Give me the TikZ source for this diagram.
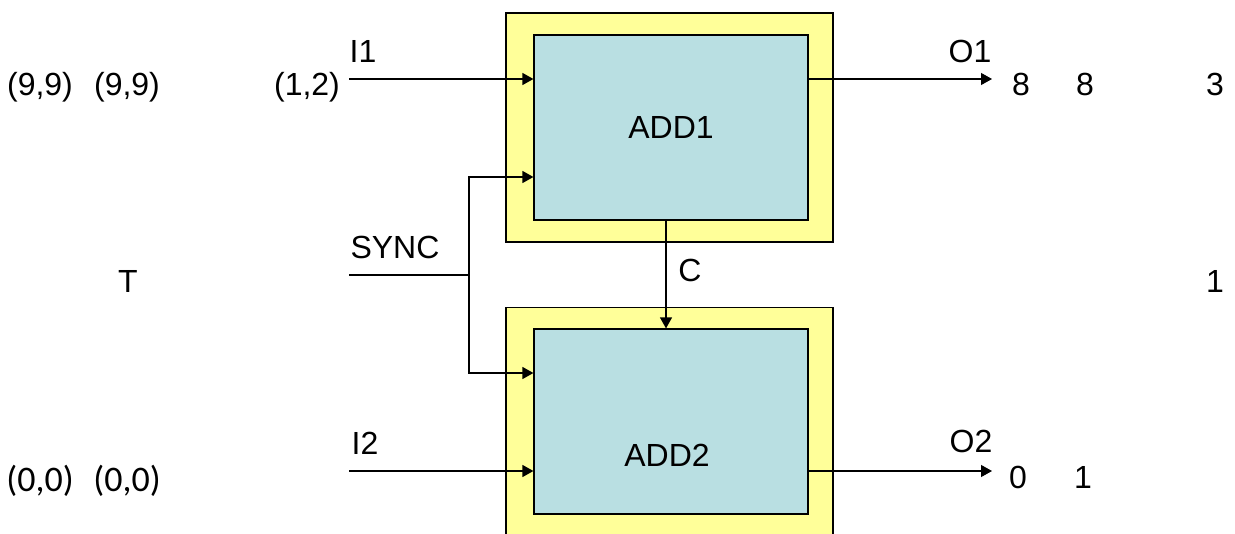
\documentclass[tikz,border=0pt]{standalone}
\usepackage{fontspec}
\setmainfont{Liberation Sans}
\newfontfamily\carlitofont{Carlito}
\usetikzlibrary{arrows.meta,positioning}
\definecolor{frameyellow}{HTML}{FFFF99}
\definecolor{coreblue}{HTML}{B9DFE2}
\tikzset{
  frame/.style={draw=black, fill=frameyellow, line width=0.6pt, minimum width=163.5pt, minimum height=114.5pt, inner sep=0pt},
  core/.style={draw=black, fill=coreblue, line width=0.6pt, minimum width=137pt, minimum height=92.5pt, inner sep=0pt, font=\fontsize{16}{19}\selectfont},
  lbl/.style={anchor=base, inner sep=0pt, font=\fontsize{16}{19}\selectfont},
  sig/.style={-{Triangle[length=5.5pt,width=6pt]}, line width=0.6pt},
  wire/.style={line width=0.6pt}
}

\begin{document}
\begin{tikzpicture}[x=0.5pt, y=-0.5pt]
        % Fix the page size
        \useasboundingbox (0,0) rectangle (1235,534);

        % Two adder blocks, yellow frame round a blue core
        \node[frame] (frame1) at (669.5,127.5) {};
        \node[core] (add1) at (671,127.5) {ADD1};

        \node[frame] (frame2) at (669.5,422) {};
        \node[core] (add2) at (671,421.5) {};
        \node[lbl] (add2txt) at (667,466) {ADD2};

        % Inputs
        \coordinate (i1) at (349,79);
        \draw[sig] (i1) -- (i1 -| add1.west);
        \coordinate (i2) at (349,471);
        \draw[sig] (i2) -- (i2 -| add2.west);

        % SYNC line forks to both blocks
        \coordinate (sync) at (349,275);
        \coordinate (fork) at (469,275);
        \draw[wire] (sync) -- (fork);
        \draw[sig] (fork) |- (add1.west |- 0,177);
        \draw[sig] (fork) |- (add2.west |- 0,373);

        % Carry
        \draw[sig] (add1.south -| 666,0) -- (add2.north -| 666,0);

        % Outputs
        \coordinate (o1) at (992,79);
        \draw[sig] (o1 -| add1.east) -- (o1);
        \coordinate (o2) at (992,471);
        \draw[sig] (o2 -| add2.east) -- (o2);

        % Signal names
        \node[lbl] (i1txt) at (363,63) {I1};
        \node[lbl] (i2txt) at (365,454) {I2};
        \node[lbl] (o1txt) at (970,63) {O1};
        \node[lbl] (o2txt) at (971,452) {O2};
        \node[lbl] (synctxt) at (395,258) {SYNC};
        \node[lbl] (ctxt) at (690,281) {C};

        % Values, top row
        \node[lbl] (v11) at (40,96) {(9,9)};
        \node[lbl] (v12) at (127,96) {(9,9)};
        \node[lbl] (v13) at (307,96) {(1,2)};
        \node[lbl] (v14) at (1021,96) {8};
        \node[lbl] (v15) at (1085,96) {8};
        \node[lbl] (v16) at (1215,96) {3};

        % Values, middle row
        \node[lbl] (v21) at (128,292) {T};
        \node[lbl] (v22) at (1215,292) {1};

        % Values, bottom row
        \node[lbl, font=\carlitofont\fontsize{18}{21}\selectfont] (v31) at (40,491) {(0,0)};
        \node[lbl, font=\carlitofont\fontsize{18}{21}\selectfont] (v32) at (127,491) {(0,0)};
        \node[lbl] (v33) at (1018,488) {0};
        \node[lbl] (v34) at (1083,488) {1};
    \end{tikzpicture}
\end{document}
